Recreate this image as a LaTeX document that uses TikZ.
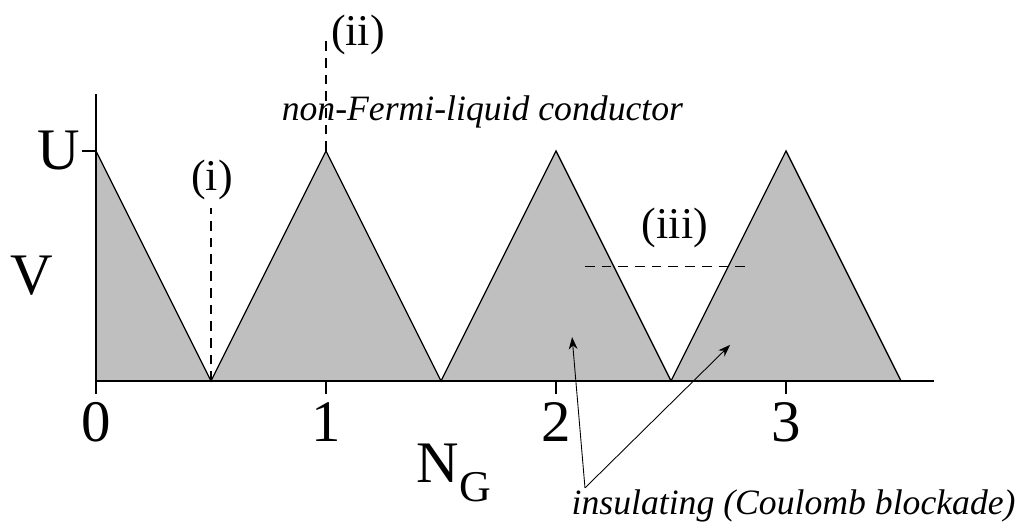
\documentclass[tikz,border=0pt]{standalone}
\usepackage{fontspec}
\setmainfont{Liberation Serif}
\usetikzlibrary{arrows.meta,positioning}

\begin{document}
\begin{tikzpicture}[x=4.6cm,y=4.6cm,>={Stealth[length=7pt,width=5pt]}]
\tikzstyle{big}=[font=\fontsize{33.5}{36}\selectfont,inner sep=0pt]
\tikzstyle{lab}=[font=\fontsize{25}{28}\selectfont,inner sep=0pt]
\tikzstyle{note}=[font=\fontsize{20.3}{24}\selectfont\itshape,inner sep=0pt]
\tikzstyle{dsh}=[line width=0.8pt,dash pattern=on 5.5pt off 4pt]
\useasboundingbox (-0.4174,-0.6435) rectangle (4.0348,1.6565);
% blockade regions
\fill[black!25] (0,0) -- (0,1) -- (0.5,0) -- (1,1) -- (1.5,0) -- (2,1) -- (2.5,0) -- (3,1) -- (3.5,0) -- cycle;
\draw[line width=0.75pt,line join=miter] (0,1) -- (0.5,0) -- (1,1) -- (1.5,0) -- (2,1) -- (2.5,0) -- (3,1) -- (3.5,0);
% axes
\coordinate (o) at (0,0);
\coordinate (xend) at (3.643,0);
\coordinate (yend) at (0,1.248);
\draw[line width=1.1pt] (xend) -- (o) -- (yend);
\draw[line width=0.6pt] (-0.06,1) -- (0,1);
\foreach \n in {0,1,2,3} {
  \draw[line width=0.6pt] (\n,0) -- (\n,-0.055);
  \node[big] (t\n) at (\n,-0.178) {\n};
}
\node[big,anchor=east] (u) at (-0.07,1) {U};
\node[big] (v) at (-0.278,0.457) {V};
\node[big] (ng) at (1.555,-0.40) {N\raisebox{-0.32em}{\fontsize{25}{28}\selectfont G}};
% cuts
\node[lab] (ci) at (0.504,0.874) {(i)};
\coordinate (ci0) at (0.5,0);
\coordinate (ci1) at (0.5,0.752);
\draw[dsh] (ci0) -- (ci1);
\node[lab] (cii) at (1.139,1.504) {(ii)};
\coordinate (cii0) at (1,1);
\coordinate (cii1) at (1,1.487);
\draw[dsh] (cii0) -- (cii1);
\node[lab] (ciii) at (2.517,0.665) {(iii)};
\coordinate (ciii0) at (2.126,0.497);
\coordinate (ciii1) at (2.843,0.497);
\draw[dsh] (ciii0) -- (ciii1);
\node[note] (nfl) at (1.68,1.17) {non-Fermi-liquid conductor};
% insulating regions
\node[note] (ins) at (3.033,-0.545) {insulating (Coulomb blockade)};
\coordinate (j) at (2.126,-0.465);
\coordinate (a1) at (2.070,0.191);
\coordinate (a2) at (2.757,0.157);
\draw[->,line width=0.5pt] (j) -- (a1);
\draw[->,line width=0.5pt] (j) -- (a2);
\end{tikzpicture}
\end{document}
